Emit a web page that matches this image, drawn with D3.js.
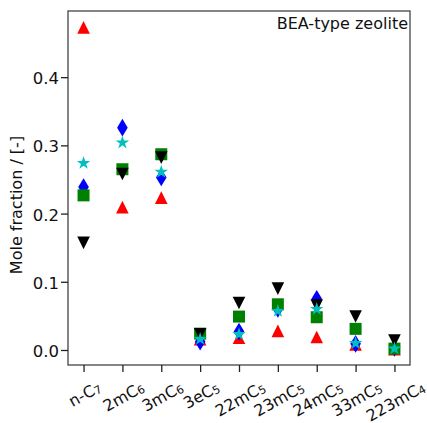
<!DOCTYPE html>
<html><head><meta charset="utf-8">
<script src="https://cdn.jsdelivr.net/npm/d3@7"></script>
<style>body{margin:0;background:#fff}svg{display:block}text{font-family:"DejaVu Sans",sans-serif}</style>
</head><body><svg id="c" width="427" height="423"></svg>
<script>
const tickBase = ["n-C","2mC","3mC","3eC","22mC","23mC","24mC","33mC","223mC"];
const tickSub  = ["7","6","6","5","5","5","5","5","4"];
const yTicks = [0.0, 0.1, 0.2, 0.3, 0.4];
const redVals   = [0.473, 0.2095, 0.2234, 0.016, 0.018, 0.028, 0.019, 0.008, 0.001];
const blueVals  = [0.239, 0.326, 0.253, 0.012, 0.027, 0.060, 0.075, 0.009, 0.003];
const greenVals = [0.2267, 0.265, 0.287, 0.024, 0.049, 0.067, 0.048, 0.031, 0.002];
const blackVals = [0.157, 0.258, 0.282, 0.023, 0.069, 0.090, 0.065, 0.049, 0.014];
const cyanVals  = [0.274, 0.304, 0.261, 0.016, 0.023, 0.057, 0.060, 0.010, 0.002];
const annotation = "BEA-type zeolite";
const yLabel = "Mole fraction / [-]";

const L = 68, R = 410, T = 11, B = 365;
const svg = d3.select("#c");
const x = d3.scaleLinear().domain([-0.4, 8.4]).range([L, R]);
const y = d3.scaleLinear().domain([-0.022, 0.497]).range([B, T]);

// symbols
const tri = (w,h)=>`M0,${-h/2}L${w/2},${h/2}L${-w/2},${h/2}Z`;
const triDown = (w,h)=>`M0,${h/2}L${w/2},${-h/2}L${-w/2},${-h/2}Z`;
const sq = s=>`M${-s/2},${-s/2}h${s}v${s}h${-s}Z`;
const dia = (w,h)=>`M0,${-h/2}L${w/2},0L0,${h/2}L${-w/2},0Z`;
function star(Ro){const ri=Ro*0.381966;let p=[];for(let i=0;i<10;i++){const r=i%2?ri:Ro;const a=Math.PI/2+i*Math.PI/5;p.push([r*Math.cos(a),-r*Math.sin(a)]);}return "M"+p.map(d=>d.join(",")).join("L")+"Z";}

const series = [
  {vals: redVals, color: "#ff0000", path: tri(12.6,12.6)},
  {vals: blueVals, color: "#0000ff", path: dia(10.6,17.6)},
  {vals: greenVals, color: "#008000", path: sq(12)},
  {vals: blackVals, color: "#000000", path: triDown(12.6,12.6)},
  {vals: cyanVals, color: "#00bfbf", path: star(7.1)}
];
const plot = svg.append("g");
series.forEach(s=>{
  plot.selectAll(null).data(s.vals).enter().append("path")
    .attr("d", s.path).attr("fill", s.color)
    .attr("transform",(d,i)=>`translate(${x(i)},${y(d)})`);
});

// frame
svg.append("rect").attr("x",L).attr("y",T).attr("width",R-L).attr("height",B-T)
  .attr("fill","none").attr("stroke","#444").attr("stroke-width",1.3);

// y axis
const yAxis = svg.append("g").attr("transform",`translate(${L},0)`)
  .call(d3.axisLeft(y).tickValues(yTicks).tickFormat(d3.format(".1f")).tickSize(7).tickPadding(2));
yAxis.select(".domain").remove();
yAxis.selectAll(".tick line").attr("stroke","#222").attr("stroke-width",1.3);
yAxis.selectAll(".tick text").attr("font-size",16.5).attr("fill","#111").attr("font-family","DejaVu Sans").attr("dy","0.4em");

// x axis
const idx = d3.range(tickBase.length);
const xAxis = svg.append("g").attr("transform",`translate(0,${B})`)
  .call(d3.axisBottom(x).tickValues(idx).tickFormat("").tickSize(7));
xAxis.select(".domain").remove();
xAxis.selectAll(".tick line").attr("stroke","#222").attr("stroke-width",1.3);

const ang = 29, th = ang*Math.PI/180, fs = 16, labTop = 380;
idx.forEach(i=>{
  const g = svg.append("g");
  const t = g.append("text").attr("font-size",fs).attr("fill","#111")
    .attr("text-anchor","middle").attr("dominant-baseline","central");
  t.append("tspan").text(tickBase[i]);
  t.append("tspan").attr("font-size",fs*0.7).attr("dy",3).text(tickSub[i]);
  const w = t.node().getComputedTextLength();
  const h = fs*0.78;
  const H = w*Math.sin(th) + h*Math.cos(th);
  g.attr("transform",`translate(${x(i)+1},${labTop + H/2}) rotate(${-ang})`);
});

// y label
svg.append("text").attr("font-size",16).attr("fill","#111")
  .attr("text-anchor","middle")
  .attr("transform",`translate(22,${(T+B)/2+17}) rotate(-90)`).text(yLabel);

// annotation
svg.append("text").attr("x",408).attr("y",29).attr("text-anchor","end")
  .attr("font-size",16).attr("fill","#111").text(annotation);
</script></body></html>
